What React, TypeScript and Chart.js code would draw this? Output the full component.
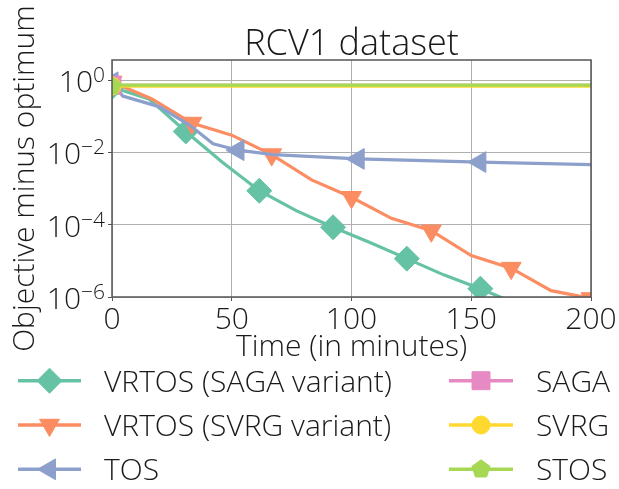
import React, { useEffect, useRef } from 'react';
import { Chart, registerables } from 'chart.js';

Chart.register(...registerables);

const FONT_FAMILY = '"Open Sans", "DejaVu Sans", sans-serif';
const FONT_WEIGHT = '300';
const TEXT_COLOR = '#1a1a1a';
const BASE_SIZE = 30;

const chartTitle = 'RCV1 dataset';
const xAxisTitle = 'Time (in minutes)';
const yAxisTitle = 'Objective minus optimum';
const xTickValues = [0, 50, 100, 150, 200];
const yTickExponents = [0, -2, -4, -6];

const seriesNames = ['VRTOS (SAGA variant)', 'VRTOS (SVRG variant)', 'TOS', 'SAGA', 'SVRG', 'STOS'];
const seriesColors = ['#66c2a5', '#fc8d62', '#8da0cb', '#e78ac3', '#ffd92f', '#a6d854'];

// VRTOS (SAGA variant)
const vrtosSagaTime = [0, 15.4, 30.8, 46.2, 61.5, 76.9, 92.3, 107.7, 123.1, 138.5, 153.8, 169.2];
const vrtosSagaValue = [0.646, 0.302, 0.038, 0.00525, 8.7e-4, 2.45e-4, 8.5e-5, 3.2e-5, 1.15e-5, 4.1e-6, 1.7e-6, 6.3e-7];
const vrtosSagaMarkers = [true, false, true, false, true, false, true, false, true, false, true, false];

// VRTOS (SVRG variant)
const vrtosSvrgTime = [0, 16.67, 33.33, 50, 66.67, 83.33, 100, 116.67, 133.33, 150, 166.67, 183.33, 200];
const vrtosSvrgValue = [0.89, 0.3, 0.065, 0.03, 0.0087, 0.00174, 5.75e-4, 1.5e-4, 6.8e-5, 1.4e-5, 6.3e-6, 1.5e-6, 9.1e-7];
const vrtosSvrgMarkers = [true, false, true, false, true, false, true, false, true, false, true, false, true];

// TOS
const tosTime = [0, 4.5, 19.9, 32.5, 42.2, 52.6, 67.3, 102.8, 153.6, 200];
const tosValue = [0.87, 0.363, 0.182, 0.056, 0.0174, 0.0115, 0.0087, 0.0066, 0.0054, 0.0046];
const tosMarkers = [true, false, false, false, false, true, false, true, true, false];

// SAGA, SVRG, STOS (flat over the window)
const sagaTime = [0, 200];
const sagaValue = [0.72, 0.72];
const svrgTime = [0, 200];
const svrgValue = [0.68, 0.68];
const stosTime = [0, 200];
const stosValue = [0.726, 0.726];
const flatMarkers = [true, false];

type MarkerSpec = { style: string; radius: number; rotation: number };
const markerSpecs: MarkerSpec[] = [
  { style: 'rectRot', radius: 12.5, rotation: 0 },
  { style: 'triangle', radius: 11.5, rotation: 180 },
  { style: 'triangle', radius: 12, rotation: -90 },
  { style: 'rect', radius: 12.7, rotation: 0 },
  { style: 'circle', radius: 9, rotation: 0 },
  { style: 'pentagon', radius: 9.5, rotation: 0 },
];

function font(size: number) {
  return `${FONT_WEIGHT} ${size}px ${FONT_FAMILY}`;
}

function drawMarker(ctx: CanvasRenderingContext2D, spec: MarkerSpec, x: number, y: number, color: string) {
  const r = spec.radius;
  ctx.save();
  ctx.fillStyle = color;
  ctx.strokeStyle = color;
  ctx.lineWidth = 1;
  ctx.beginPath();
  if (spec.style === 'rectRot') {
    ctx.moveTo(x - r, y);
    ctx.lineTo(x, y - r);
    ctx.lineTo(x + r, y);
    ctx.lineTo(x, y + r);
    ctx.closePath();
  } else if (spec.style === 'triangle') {
    let rad = (spec.rotation * Math.PI) / 180;
    ctx.moveTo(x + Math.sin(rad) * r, y - Math.cos(rad) * r);
    rad += (2 * Math.PI) / 3;
    ctx.lineTo(x + Math.sin(rad) * r, y - Math.cos(rad) * r);
    rad += (2 * Math.PI) / 3;
    ctx.lineTo(x + Math.sin(rad) * r, y - Math.cos(rad) * r);
    ctx.closePath();
  } else if (spec.style === 'rect') {
    const s = r * Math.SQRT1_2;
    ctx.rect(x - s, y - s, 2 * s, 2 * s);
  } else if (spec.style === 'circle') {
    ctx.arc(x, y, r, 0, Math.PI * 2);
  } else if (spec.style === 'pentagon') {
    for (let k = 0; k < 5; k++) {
      const a = -Math.PI / 2 + (k * 2 * Math.PI) / 5;
      const px = x + Math.cos(a) * r;
      const py = y + Math.sin(a) * r;
      if (k === 0) ctx.moveTo(px, py);
      else ctx.lineTo(px, py);
    }
    ctx.closePath();
  }
  ctx.fill();
  ctx.stroke();
  ctx.restore();
}

function makePentagonCanvas(color: string, r: number) {
  const size = Math.ceil(r * 2 + 4);
  const c = document.createElement('canvas');
  c.width = size;
  c.height = size;
  const cx = c.getContext('2d');
  if (cx) drawMarker(cx, { style: 'pentagon', radius: r, rotation: 0 }, size / 2, size / 2 + 1, color);
  return c;
}

const decorPlugin = {
  id: 'decor',
  afterDatasetsDraw(chart: any) {
    const { ctx, chartArea } = chart;
    ctx.save();
    ctx.strokeStyle = '#555555';
    ctx.lineWidth = 1.5;
    ctx.strokeRect(chartArea.left, chartArea.top, chartArea.right - chartArea.left, chartArea.bottom - chartArea.top);
    ctx.restore();
  },
  afterDraw(chart: any) {
    const { ctx, chartArea } = chart;
    const yScale = chart.scales.y;
    ctx.save();
    ctx.fillStyle = TEXT_COLOR;

    // Title
    ctx.font = font(36);
    ctx.textAlign = 'center';
    ctx.textBaseline = 'alphabetic';
    ctx.fillText(chartTitle, (chartArea.left + chartArea.right) / 2, 55);

    // Y tick labels: 10 with superscript exponent
    const labelRight = chartArea.left - 7;
    yTickExponents.forEach((e) => {
      const y = yScale.getPixelForValue(Math.pow(10, e));
      const expText = e === 0 ? '0' : '\u2212' + String(-e);
      ctx.font = font(21);
      const expW = ctx.measureText(expText).width;
      ctx.textAlign = 'left';
      ctx.fillText(expText, labelRight - expW, y + 2);
      ctx.font = font(BASE_SIZE);
      ctx.textAlign = 'right';
      ctx.fillText('10', labelRight - expW, y + 12);
    });

    // Legend
    const cols = [
      { lineStart: 18, lineEnd: 81, text: 104 },
      { lineStart: 449, lineEnd: 513, text: 536 },
    ];
    const rows = [380.7, 425, 469.3];
    seriesNames.forEach((name, i) => {
      const col = cols[Math.floor(i / 3)];
      const rowY = rows[i % 3];
      ctx.strokeStyle = seriesColors[i];
      ctx.lineWidth = 3.5;
      ctx.beginPath();
      ctx.moveTo(col.lineStart, rowY);
      ctx.lineTo(col.lineEnd, rowY);
      ctx.stroke();
      drawMarker(ctx, markerSpecs[i], (col.lineStart + col.lineEnd) / 2, rowY, seriesColors[i]);
      ctx.fillStyle = TEXT_COLOR;
      ctx.font = font(BASE_SIZE);
      ctx.textAlign = 'left';
      ctx.textBaseline = 'alphabetic';
      ctx.fillText(name, col.text, rowY + 11);
    });
    ctx.restore();
  },
};

export default function App() {
  const canvasRef = useRef<HTMLCanvasElement | null>(null);

  useEffect(() => {
    const canvas = canvasRef.current;
    if (!canvas) return;

    const times = [vrtosSagaTime, vrtosSvrgTime, tosTime, sagaTime, svrgTime, stosTime];
    const values = [vrtosSagaValue, vrtosSvrgValue, tosValue, sagaValue, svrgValue, stosValue];
    const markers = [vrtosSagaMarkers, vrtosSvrgMarkers, tosMarkers, flatMarkers, flatMarkers, flatMarkers];

    const pentagon = makePentagonCanvas(seriesColors[5], markerSpecs[5].radius);

    const datasets = seriesNames.map((name, i) => {
      const spec = markerSpecs[i];
      return {
        label: name,
        data: times[i].map((t, k) => ({ x: t, y: values[i][k] })),
        borderColor: seriesColors[i],
        backgroundColor: seriesColors[i],
        borderWidth: 3.2,
        pointRadius: markers[i].map((m) => (m ? spec.radius : 0)),
        pointStyle: spec.style === 'pentagon' ? pentagon : spec.style,
        pointRotation: spec.rotation,
        pointBorderWidth: 1,
        pointBorderColor: seriesColors[i],
        pointBackgroundColor: seriesColors[i],
        tension: 0,
        fill: false,
        clip: 0,
        order: seriesNames.length - 1 - i,
      };
    });

    const chart = new Chart(canvas, {
      type: 'line',
      data: { datasets } as any,
      options: {
        animation: false,
        responsive: false,
        devicePixelRatio: 1,
        events: [],
        layout: { padding: { top: 60, right: 28, bottom: 125, left: 0 } },
        plugins: {
          legend: { display: false },
          title: { display: false },
          tooltip: { enabled: false },
        },
        scales: {
          x: {
            type: 'linear',
            min: 0,
            max: 200,
            afterBuildTicks: (s: any) => {
              s.ticks = xTickValues.map((v) => ({ value: v }));
            },
            afterFit: (s: any) => {
              s.height = 67;
            },
            ticks: {
              font: { family: FONT_FAMILY, size: BASE_SIZE, weight: FONT_WEIGHT as any },
              color: TEXT_COLOR,
              padding: 1,
              maxRotation: 0,
              autoSkip: false,
            },
            grid: { color: '#b0b0b0', lineWidth: 1, tickLength: 4, tickColor: '#555555' },
            border: { display: false },
            title: {
              display: true,
              text: xAxisTitle,
              color: TEXT_COLOR,
              font: { family: FONT_FAMILY, size: BASE_SIZE, weight: FONT_WEIGHT as any },
              padding: { top: 0, bottom: -1 },
            },
          },
          y: {
            type: 'logarithmic',
            min: 1e-6,
            max: Math.pow(10, 0.556),
            afterBuildTicks: (s: any) => {
              s.ticks = yTickExponents.map((e) => ({ value: Math.pow(10, e) }));
            },
            afterFit: (s: any) => {
              s.width = 112;
            },
            ticks: { display: false },
            grid: { color: '#b0b0b0', lineWidth: 1, tickLength: 4, tickColor: '#555555' },
            border: { display: false },
            title: {
              display: true,
              text: yAxisTitle,
              color: TEXT_COLOR,
              font: { family: FONT_FAMILY, size: BASE_SIZE, weight: FONT_WEIGHT as any },
              padding: { top: 7, bottom: 0 },
            },
          },
        },
      },
      plugins: [decorPlugin],
    });

    return () => {
      chart.destroy();
    };
  }, []);

  return (
    <div style={{ position: 'fixed', left: 0, top: 0, width: 619, height: 489, background: '#ffffff' }}>
      <canvas ref={canvasRef} width={619} height={489} style={{ display: 'block', width: 619, height: 489 }} />
    </div>
  );
}
